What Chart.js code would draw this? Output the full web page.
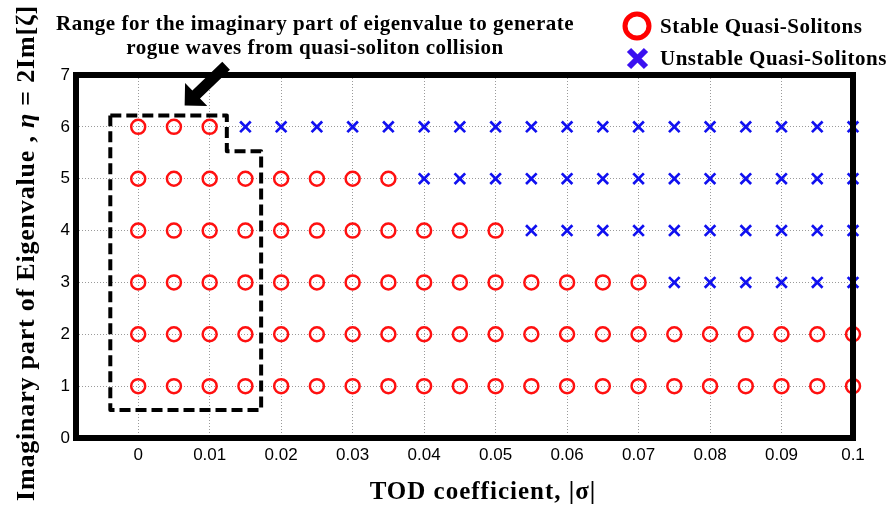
<!DOCTYPE html>
<html>
<head>
<meta charset="utf-8">
<script src="https://cdn.jsdelivr.net/npm/chart.js@4/dist/chart.umd.min.js"></script>
<style>
  html, body { margin: 0; padding: 0; background: #fff; }
  #wrap { width: 888px; height: 507px; }
</style>
</head>
<body>
<div id="wrap"><canvas id="c" width="888" height="507"></canvas></div>
<script>
// TOD coefficient values sampled along the x axis
const sigmaValues = [0, 0.005, 0.01, 0.015, 0.02, 0.025, 0.03, 0.035, 0.04, 0.045, 0.05,
                     0.055, 0.06, 0.065, 0.07, 0.075, 0.08, 0.085, 0.09, 0.095, 0.1];
// imaginary part of the eigenvalue, one row per level
const etaLevels = [1, 2, 3, 4, 5, 6];
// largest |sigma| that still gives a stable quasi-soliton, per eta level above
const lastStableSigma = [0.1, 0.1, 0.07, 0.05, 0.035, 0.01];

// tick labels
const xTickValues = [0, 0.01, 0.02, 0.03, 0.04, 0.05, 0.06, 0.07, 0.08, 0.09, 0.1];
const xTickLabels = ['0', '0.01', '0.02', '0.03', '0.04', '0.05', '0.06', '0.07', '0.08', '0.09', '0.1'];
const yTickValues = [0, 1, 2, 3, 4, 5, 6, 7];
const yTickLabels = ['0', '1', '2', '3', '4', '5', '6', '7'];

// rogue-wave range outline (sigma, eta) and pointer arrow (tail -> tip)
const rangeOutlineSigma = [-0.0039, 0.0124, 0.0124, 0.0172, 0.0172, -0.0039, -0.0039];
const rangeOutlineEta   = [6.22, 6.22, 5.53, 5.53, 0.54, 0.54, 6.22];
const arrowSigma = [0.0123, 0.0065];
const arrowEta   = [7.18, 6.41];

const stablePts = [], unstablePts = [];
etaLevels.forEach((eta, i) => {
  sigmaValues.forEach(s => {
    if (s <= lastStableSigma[i] + 1e-9) stablePts.push({x: s, y: eta});
    else unstablePts.push({x: s, y: eta});
  });
});
const outlinePts = rangeOutlineSigma.map((s, i) => ({x: s, y: rangeOutlineEta[i]}));

const SERIF = '"Liberation Serif", "Times New Roman", serif';
const SANS = '"Liberation Sans", Arial, Helvetica, sans-serif';

const frameAndNotes = {
  id: 'frameAndNotes',
  afterDatasetsDraw(chart) {
    const ctx = chart.ctx;
    const a = chart.chartArea;
    const xs = chart.scales.x, ys = chart.scales.y;
    ctx.save();
    // heavy axes box
    ctx.strokeStyle = '#000';
    ctx.lineWidth = 6;
    ctx.lineJoin = 'miter';
    ctx.strokeRect(a.left, a.top, a.right - a.left, a.bottom - a.top);

    // pointer arrow
    const tx = xs.getPixelForValue(arrowSigma[0]), ty = ys.getPixelForValue(arrowEta[0]);
    const hx = xs.getPixelForValue(arrowSigma[1]), hy = ys.getPixelForValue(arrowEta[1]);
    const len = Math.hypot(hx - tx, hy - ty);
    const ux = (hx - tx) / len, uy = (hy - ty) / len;
    const px = -uy, py = ux;
    const headLen = 16, headHalf = 16, shaftHalf = 5.5;
    const bx = hx - ux * headLen, by = hy - uy * headLen;
    ctx.fillStyle = '#000';
    ctx.beginPath();
    ctx.moveTo(tx + px * shaftHalf, ty + py * shaftHalf);
    ctx.lineTo(bx + px * shaftHalf, by + py * shaftHalf);
    ctx.lineTo(bx + px * headHalf, by + py * headHalf);
    ctx.lineTo(hx, hy);
    ctx.lineTo(bx - px * headHalf, by - py * headHalf);
    ctx.lineTo(bx - px * shaftHalf, by - py * shaftHalf);
    ctx.lineTo(tx - px * shaftHalf, ty - py * shaftHalf);
    ctx.closePath();
    ctx.fill();

    // annotation above the plot
    ctx.fillStyle = '#000';
    ctx.textAlign = 'center';
    ctx.textBaseline = 'alphabetic';
    ctx.letterSpacing = '0.5px';
    ctx.font = 'bold 21px ' + SERIF;
    ctx.fillText('Range for the imaginary part of eigenvalue to generate', 315, 30);
    ctx.fillText('rogue waves from quasi-soliton collision', 315, 54);

    // legend
    ctx.lineWidth = 5;
    ctx.strokeStyle = '#ff0000';
    ctx.beginPath();
    ctx.arc(637, 26, 12, 0, Math.PI * 2);
    ctx.stroke();
    ctx.strokeStyle = '#3a10f0';
    ctx.lineWidth = 6;
    ctx.lineCap = 'butt';
    ctx.beginPath();
    ctx.moveTo(629, 50); ctx.lineTo(646, 67);
    ctx.moveTo(646, 50); ctx.lineTo(629, 67);
    ctx.stroke();
    ctx.textAlign = 'left';
    ctx.font = 'bold 21px ' + SERIF;
    ctx.fillText('Stable Quasi-Solitons', 660, 33);
    ctx.fillText('Unstable Quasi-Solitons', 660, 65);

    // x axis title
    ctx.textAlign = 'center';
    ctx.letterSpacing = '1px';
    ctx.font = 'bold 25px ' + SERIF;
    ctx.fillText('TOD coefficient, |\u03C3|', 483, 499);

    // y axis title with italic eta
    ctx.letterSpacing = '0.8px';
    const segs = [
      ['Imaginary part of Eigenvalue , ', 'bold 26px ' + SERIF],
      ['\u03B7', 'italic bold 26px ' + SERIF],
      [' = 2Im[\u03B6]', 'bold 26px ' + SERIF]
    ];
    let total = 0;
    segs.forEach(s => { ctx.font = s[1]; total += ctx.measureText(s[0]).width; });
    ctx.translate(34, 253);
    ctx.rotate(-Math.PI / 2);
    ctx.textAlign = 'left';
    let cx = -total / 2;
    segs.forEach(s => { ctx.font = s[1]; ctx.fillText(s[0], cx, 0); cx += ctx.measureText(s[0]).width; });
    ctx.restore();
  }
};

new Chart(document.getElementById('c'), {
  type: 'scatter',
  data: {
    datasets: [
      {
        label: 'Stable Quasi-Solitons',
        data: stablePts,
        pointStyle: 'circle',
        pointRadius: 7,
        pointHoverRadius: 7,
        pointBorderWidth: 2.5,
        pointBorderColor: '#ff1010',
        pointBackgroundColor: 'rgba(0,0,0,0)',
        clip: false
      },
      {
        label: 'Unstable Quasi-Solitons',
        data: unstablePts,
        pointStyle: 'crossRot',
        pointRadius: 7.5,
        pointHoverRadius: 7.5,
        pointBorderWidth: 2.7,
        pointBorderColor: '#1010f0',
        clip: false
      },
      {
        label: 'range',
        data: outlinePts,
        showLine: true,
        pointRadius: 0,
        borderColor: '#000',
        borderWidth: 4,
        borderDash: [11, 5],
        borderJoinStyle: 'round',
        fill: false,
        clip: false
      }
    ]
  },
  options: {
    responsive: false,
    animation: false,
    devicePixelRatio: 1,
    layout: { padding: { top: 75, right: 35, left: 0, bottom: 0 } },
    plugins: { legend: { display: false }, tooltip: { enabled: false } },
    scales: {
      x: {
        type: 'linear',
        min: -0.0087,
        max: 0.1,
        afterBuildTicks: s => { s.ticks = xTickValues.map(v => ({value: v})); },
        afterFit: s => { s.height = 69; },
        ticks: {
          callback: (v, i) => xTickLabels[i],
          font: { family: SANS, size: 17 },
          color: '#000',
          padding: 7,
          maxRotation: 0,
          autoSkip: false
        },
        grid: { color: '#9a9a9a', lineWidth: 1, drawTicks: false },
        border: { display: false, dash: [1, 2] }
      },
      y: {
        type: 'linear',
        min: 0,
        max: 7,
        afterBuildTicks: s => { s.ticks = yTickValues.map(v => ({value: v})); },
        afterFit: s => { s.width = 76; },
        ticks: {
          callback: (v, i) => yTickLabels[i],
          font: { family: SANS, size: 17 },
          color: '#000',
          padding: 6,
          autoSkip: false
        },
        grid: { color: '#9a9a9a', lineWidth: 1, drawTicks: false },
        border: { display: false, dash: [1, 2] }
      }
    }
  },
  plugins: [frameAndNotes]
});
</script>
</body>
</html>
